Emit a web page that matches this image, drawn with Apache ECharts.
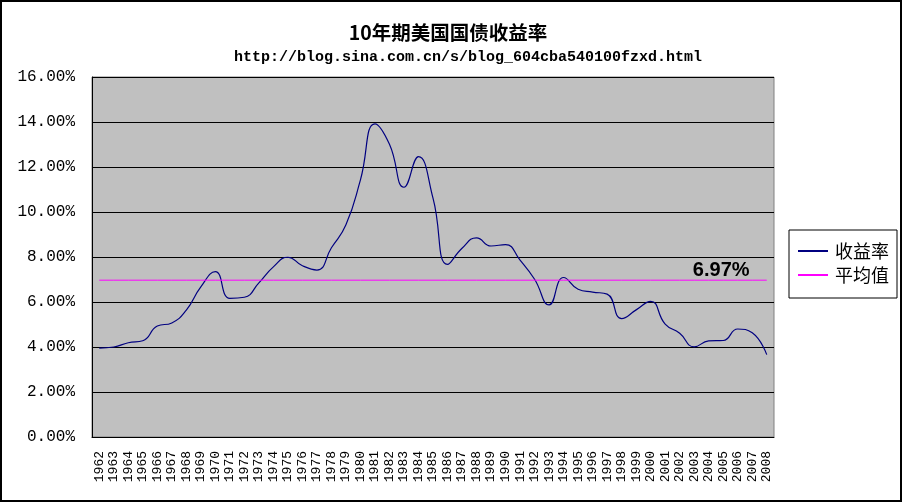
<!DOCTYPE html>
<html>
<head>
<meta charset="utf-8">
<script src="https://cdn.jsdelivr.net/npm/echarts@6/dist/echarts.min.js"></script>
<style>
  html, body { margin: 0; padding: 0; background: #fff; }
  #main { width: 902px; height: 502px; }
</style>
</head>
<body>
<div id="main"></div>
<script>
// 年份
var years = ["1962","1963","1964","1965","1966","1967","1968","1969","1970","1971",
    "1972","1973","1974","1975","1976","1977","1978","1979","1980","1981",
    "1982","1983","1984","1985","1986","1987","1988","1989","1990","1991",
    "1992","1993","1994","1995","1996","1997","1998","1999","2000","2001",
    "2002","2003","2004","2005","2006","2007","2008"];
// 收益率 (%)
var yields = [3.95, 4.00, 4.19, 4.28, 4.93, 5.07, 5.64, 6.67, 7.35, 6.16,
    6.21, 6.85, 7.56, 7.99, 7.61, 7.42, 8.41, 9.43, 11.43, 13.92,
    13.01, 11.10, 12.46, 10.62, 7.67, 8.39, 8.85, 8.49, 8.55, 7.86,
    7.01, 5.87, 7.09, 6.57, 6.44, 6.35, 5.26, 5.65, 6.03, 5.02,
    4.61, 4.01, 4.27, 4.29, 4.80, 4.63, 3.66];
// 平均值
var avgValue = 6.97;
var avgLabelYear = "2005";

var avgData = years.map(function () { return avgValue; });

var chart = echarts.init(document.getElementById('main'));
chart.setOption({
    animation: false,
    backgroundColor: '#fff',
    title: [{
        text: '10年期美国国债收益率',
        left: 443,
        top: 18,
        textAlign: 'center',
        textStyle: { fontFamily: 'Noto Sans CJK SC', fontSize: 19.5, fontWeight: 'bold', color: '#000' }
    }, {
        text: 'http://blog.sina.com.cn/s/blog_604cba540100fzxd.html',
        left: 463,
        top: 45,
        textAlign: 'center',
        textStyle: { fontFamily: 'Liberation Mono', fontSize: 15, fontWeight: 'bold', color: '#000' }
    }],
    legend: {
        orient: 'vertical',
        right: 5,
        top: 230,
        padding: [12, 8, 14, 9],
        itemGap: 6,
        itemWidth: 30,
        itemHeight: 2,
        icon: 'rect',
        borderColor: '#000',
        borderWidth: 1,
        borderRadius: 0,
        backgroundColor: '#fff',
        textStyle: { fontFamily: 'Noto Sans CJK SC', fontSize: 18, lineHeight: 18, color: '#000', padding: [0, 0, 0, 2] },
        data: ['收益率', '平均值']
    },
    grid: {
        left: 92,
        top: 77,
        right: 128,
        bottom: 65,
        show: true,
        backgroundColor: '#C0C0C0',
        borderColor: '#808080',
        borderWidth: 1
    },
    xAxis: {
        type: 'category',
        data: years,
        boundaryGap: true,
        axisLine: { lineStyle: { color: '#000', width: 1 } },
        axisTick: { inside: true, length: 4, lineStyle: { color: '#000' } },
        axisLabel: {
            interval: 0,
            rotate: 90,
            margin: 14,
            fontFamily: 'Liberation Mono',
            fontSize: 13,
            color: '#000'
        },
        splitLine: { show: false }
    },
    yAxis: {
        type: 'value',
        min: 0,
        max: 16,
        interval: 2,
        axisLine: { show: true, lineStyle: { color: '#000', width: 1 } },
        axisTick: { show: false },
        axisLabel: {
            margin: 17,
            fontFamily: 'Liberation Mono',
            fontSize: 16,
            color: '#000',
            formatter: function (v) { return v.toFixed(2) + '%'; }
        },
        splitLine: { lineStyle: { color: '#000', width: 1 } }
    },
    series: [{
        name: '收益率',
        type: 'line',
        data: yields,
        smooth: 0.5,
        symbol: 'none',
        lineStyle: { color: '#000080', width: 1.2 },
        itemStyle: { color: '#000080' }
    }, {
        name: '平均值',
        type: 'line',
        data: avgData,
        symbol: 'none',
        lineStyle: { color: '#FF00FF', width: 1 },
        itemStyle: { color: '#FF00FF' },
        markPoint: {
            symbol: 'rect',
            symbolSize: 1,
            itemStyle: { color: 'rgba(0,0,0,0)' },
            silent: true,
            data: [{ coord: [avgLabelYear, avgValue] }],
            label: {
                show: true,
                position: 'top',
                distance: -1,
                offset: [-2, 0],
                formatter: avgValue.toFixed(2) + '%',
                fontFamily: 'Liberation Sans',
                fontWeight: 'bold',
                fontSize: 20,
                color: '#000'
            }
        }
    }],
    graphic: [{
        type: 'rect',
        shape: { x: 1, y: 1, width: 900, height: 500 },
        style: { fill: null, stroke: '#000', lineWidth: 2 },
        silent: true
    }]
});
</script>
</body>
</html>
